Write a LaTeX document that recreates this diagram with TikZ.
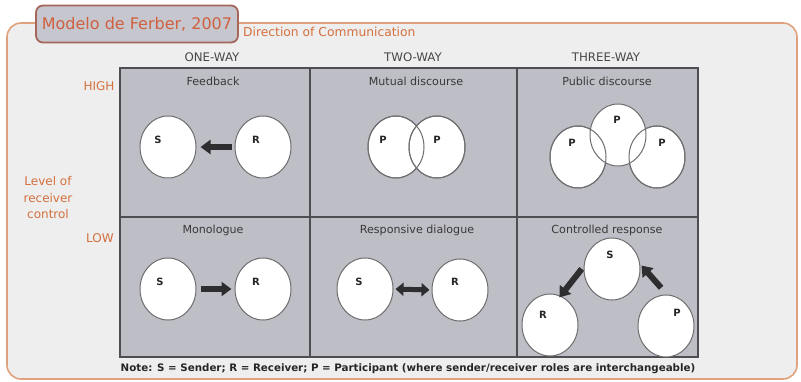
\documentclass[tikz,border=0pt]{standalone}
\usepackage{fontspec}
\setmainfont{DejaVu Sans}
\usetikzlibrary{arrows.meta,shapes.geometric}
\definecolor{orangetxt}{HTML}{D4703E}
\definecolor{titletxt}{HTML}{D0603F}
\definecolor{outerline}{HTML}{E0A27C}
\definecolor{outerfill}{HTML}{EEEEEE}
\definecolor{titlefill}{HTML}{C6C6CE}
\definecolor{titleline}{HTML}{A5675A}
\definecolor{gridfill}{HTML}{BEBEC6}
\definecolor{gridline}{HTML}{4E4E52}
\definecolor{hdrtxt}{HTML}{474747}
\definecolor{circline}{HTML}{6E6E6E}
\definecolor{arrowcol}{HTML}{2E2E30}
\tikzset{
  hdr/.style={text=hdrtxt,font=\fontsize{11.8}{13}\selectfont,inner sep=0pt},
  celltitle/.style={text=hdrtxt!80!black,font=\fontsize{11.1}{13}\selectfont,inner sep=0pt},
  side/.style={text=orangetxt,font=\fontsize{12}{16.5}\selectfont,inner sep=0pt,align=center},
  circ/.style={ellipse,fill=white,draw=circline,line width=1pt,minimum width=56pt,minimum height=62pt,inner sep=0pt},
  circo/.style={ellipse,draw=circline,line width=1pt,minimum width=56pt,minimum height=62pt,inner sep=0pt},
  lbl/.style={font=\bfseries\fontsize{10}{11}\selectfont,text=black!85,inner sep=0pt},
  blk/.style={draw=arrowcol,line width=6pt,-{Triangle[length=10pt,width=14pt]},arrowcol},
  dblk/.style={draw=arrowcol,line width=5pt,{Triangle[length=8pt,width=13pt]}-{Triangle[length=8pt,width=13pt]},arrowcol},
}
\begin{document}
\begin{tikzpicture}[x=1pt,y=-1pt]
\useasboundingbox (0,0) rectangle (801,382);
% outer panel
\draw[outerline,fill=outerfill,line width=1.6pt,rounded corners=14pt] (7,23) rectangle (797,379);
% title box
\node[draw=titleline,fill=titlefill,line width=1.8pt,rounded corners=7pt,minimum width=202pt,minimum height=37pt,inner sep=0pt,text=titletxt,font=\fontsize{16}{18}\selectfont] (title) at (137,24) {Modelo de Ferber, 2007};
\node[anchor=west,text=orangetxt,font=\fontsize{12.3}{14}\selectfont,inner sep=0pt] (dir) at (243,32) {Direction of Communication};
% grid
\draw[gridline,fill=gridfill,line width=1.3pt] (120,68) rectangle (698,357);
\draw[gridline,line width=1.3pt] (310,68) -- (310,357) (517,68) -- (517,357) (120,217) -- (698,217);
% headers
\node[hdr] (h1) at (212,57) {ONE-WAY};
\node[hdr] (h2) at (413,57) {TWO-WAY};
\node[hdr] (h3) at (606,57) {THREE-WAY};
\node[side] (high) at (99,86) {HIGH};
\node[side] (low) at (100,238) {LOW};
\node[side] (lvl) at (48,198) {Level of\\receiver\\control};
% cell titles
\node[celltitle] (t1) at (213,81) {Feedback};
\node[celltitle] (t2) at (416,81) {Mutual discourse};
\node[celltitle] (t3) at (607,81) {Public discourse};
\node[celltitle] (t4) at (213,230) {Monologue};
\node[celltitle] (t5) at (417,230) {Responsive dialogue};
\node[celltitle] (t6) at (607,230) {Controlled response};
% Feedback
\node[circ] (fS) at (168,147) {};
\node[circ] (fR) at (263,147) {};
\node[lbl] (fSl) at (158,140) {S};
\node[lbl] (fRl) at (256,140) {R};
\draw[blk,shorten <=3pt,shorten >=4pt] (fR.west) -- (fS.east);
% Mutual discourse
\node[circ] (m1) at (396,147) {};
\node[circ] (m2) at (437,147) {};
\node[circo] (m1o) at (m1) {};
\node[circo] (m2o) at (m2) {};
\node[lbl] (m1l) at (383,140) {P};
\node[lbl] (m2l) at (437,140) {P};
% Public discourse
\node[circ] (pL) at (578,157) {};
\node[circ] (pR) at (657,157) {};
\node[circ] (pT) at (618,135) {};
\node[circo] (pLo) at (pL) {};
\node[circo] (pRo) at (pR) {};
\node[lbl] (pLl) at (572,143) {P};
\node[lbl] (pTl) at (617,120) {P};
\node[lbl] (pRl) at (662,143) {P};
% Monologue
\node[circ] (oS) at (168,289) {};
\node[circ] (oR) at (263,289) {};
\node[lbl] (oSl) at (160,282) {S};
\node[lbl] (oRl) at (256,282) {R};
\draw[blk,shorten <=4pt,shorten >=3pt] (oS.east) -- (oR.west);
% Responsive dialogue
\node[circ] (rS) at (365,289) {};
\node[circ] (rR) at (460,290) {};
\node[lbl] (rSl) at (359,282) {S};
\node[lbl] (rRl) at (455,282) {R};
\draw[dblk,shorten <=2pt,shorten >=2pt] (rS.east) -- (rR.west);
% Controlled response
\node[circ] (cS) at (612,269) {};
\node[circ] (cR) at (550,325) {};
\node[circ] (cP) at (666,326) {};
\node[lbl] (cSl) at (610,255) {S};
\node[lbl] (cRl) at (543,315) {R};
\node[lbl] (cPl) at (677,313) {P};
\draw[blk,shorten <=3pt,shorten >=-2pt] (cS.175) -- (cR.70);
\draw[blk,shorten <=9pt,shorten >=2pt] (cP.88) -- (cS.10);
% note
\node[text=black!85,font=\bfseries\fontsize{10.3}{12}\selectfont,inner sep=0pt] (note) at (408,369) {Note: S = Sender; R = Receiver; P = Participant (where sender/receiver roles are interchangeable)};
\end{tikzpicture}
\end{document}
